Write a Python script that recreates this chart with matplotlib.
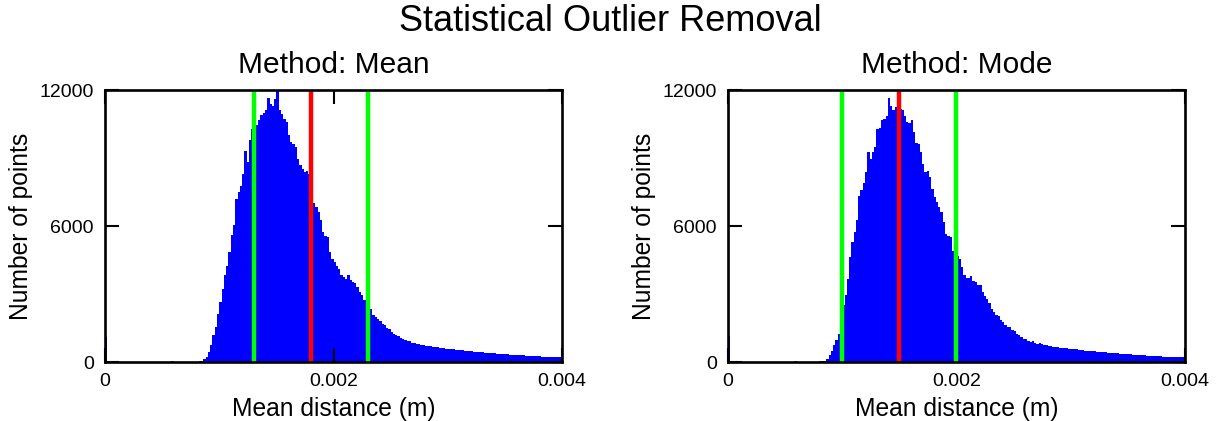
import numpy as np
import matplotlib.pyplot as plt

plt.rcParams['font.family'] = ['Liberation Sans', 'DejaVu Sans']

# histogram bins: 200 bins of 2e-5 m between 0 and 0.004 m
bin_edges = np.linspace(0, 0.004, 201)

mean_counts = [
    1100, 0, 0, 0, 0, 0, 0, 0, 0, 0,
    0, 0, 0, 0, 0, 0, 0, 0, 0, 0,
    0, 0, 0, 0, 0, 0, 0, 0, 0, 40,
    0, 0, 0, 0, 0, 0, 5, 10, 10, 15,
    20, 25, 30, 120, 220, 440, 735, 1180, 1550, 2130,
    2650, 3230, 3820, 4260, 4850, 5590, 6030, 7200, 7500, 7790,
    8300, 9330, 8820, 9800, 10300, 10800, 10450, 10700, 10900, 11000,
    11100, 11650, 11400, 11300, 11600, 11950, 11100, 10950, 10730, 10580,
    10000, 9700, 9630, 9480, 8970, 8700, 8530, 8400, 8450, 8300,
    7300, 7000, 6850, 6615, 6250, 5730, 5560, 5510, 4850, 4530,
    4410, 4260, 4120, 3820, 3750, 3650, 3850, 3600, 3530, 3500,
    3310, 3090, 2940, 2760, 2650, 2500, 2320, 2060, 2010, 1910,
    1820, 1700, 1620, 1510, 1470, 1320, 1250, 1200, 1150, 1060,
    1030, 970, 940, 910, 850, 820, 790, 780, 765, 735,
    720, 705, 690, 680, 665, 650, 635, 620, 610, 595,
    580, 570, 560, 545, 535, 525, 515, 500, 495, 480,
    470, 465, 450, 440, 435, 425, 415, 405, 400, 390,
    380, 375, 365, 360, 350, 345, 335, 330, 320, 315,
    310, 300, 295, 290, 285, 280, 270, 265, 260, 255,
    250, 245, 240, 235, 230, 228, 222, 218, 212, 208,
]

mode_counts = [
    1150, 0, 0, 0, 0, 0, 0, 0, 0, 0,
    0, 0, 0, 0, 0, 0, 0, 0, 0, 0,
    0, 0, 0, 0, 0, 0, 0, 0, 0, 40,
    0, 0, 0, 0, 0, 0, 0, 0, 10, 20,
    30, 40, 60, 120, 295, 470, 735, 955, 1250, 1700,
    2500, 2940, 3675, 4630, 5290, 5730, 6250, 7320, 7570, 7900,
    8400, 9260, 8940, 9260, 9480, 10290, 10320, 10660, 10730, 10850,
    11650, 11320, 11140, 11250, 11250, 11170, 11100, 10850, 10610, 10550,
    10700, 10140, 9670, 9630, 9260, 8750, 8380, 8410, 8160, 7640,
    7280, 7060, 6840, 6620, 6170, 5660, 5560, 5510, 4920, 4850,
    4700, 4530, 4190, 3820, 3700, 3700, 3790, 3560, 3530, 3410,
    3380, 3090, 2910, 2790, 2620, 2320, 2200, 2090, 2030, 1840,
    1760, 1650, 1540, 1560, 1430, 1350, 1250, 1200, 1100, 1030,
    1000, 940, 880, 940, 850, 810, 840, 790, 765, 735,
    720, 705, 675, 660, 660, 630, 620, 615, 600, 590,
    585, 565, 555, 550, 530, 525, 510, 505, 490, 480,
    470, 460, 455, 440, 430, 425, 410, 405, 395, 385,
    380, 370, 365, 355, 350, 340, 335, 325, 320, 315,
    305, 300, 295, 285, 280, 275, 270, 262, 258, 250,
    245, 240, 236, 230, 226, 222, 218, 214, 210, 205,
]

# threshold lines: lower limit, centre, upper limit
mean_lines = [0.0013, 0.0018, 0.0023]
mode_lines = [0.0010, 0.0015, 0.0020]

x_ticks = [0, 0.002, 0.004]
x_tick_labels = ['0', '0.002', '0.004']
y_ticks = [0, 6000, 12000]
y_tick_labels = ['0', '6000', '12000']

fig = plt.figure(figsize=(12.21, 4.21), dpi=100)
fig.suptitle('Statistical Outlier Removal', fontsize=26, y=0.99)

panels = [
    ('Method: Mean', mean_counts, mean_lines, 0.086),
    ('Method: Mode', mode_counts, mode_lines, 0.5962),
]

for title, counts, lines, left in panels:
    ax = fig.add_axes([left, 0.140, 0.3743, 0.646])
    ax.stairs(counts, bin_edges, fill=True, color=(0, 0, 1), lw=0)
    lo, mid, hi = lines
    ax.axvline(lo, color=(0, 1, 0), lw=3.2)
    ax.axvline(mid, color=(1, 0, 0), lw=3.2)
    ax.axvline(hi, color=(0, 1, 0), lw=3.2)

    ax.set_xlim(0, 0.004)
    ax.set_ylim(0, 12000)
    ax.set_xticks(x_ticks)
    ax.set_xticklabels(x_tick_labels)
    ax.set_yticks(y_ticks)
    ax.set_yticklabels(y_tick_labels)
    ax.tick_params(direction='in', length=10, width=1.5, labelsize=14,
                   top=True, right=True, pad=8)
    for s in ax.spines.values():
        s.set_linewidth(1.9)

    ax.set_title(title, fontsize=21.5, pad=12)
    ax.set_xlabel('Mean distance (m)', fontsize=17.7, labelpad=5)
    ax.set_ylabel('Number of points', fontsize=17.7, labelpad=5)

fig.savefig('out.png', dpi=100)
